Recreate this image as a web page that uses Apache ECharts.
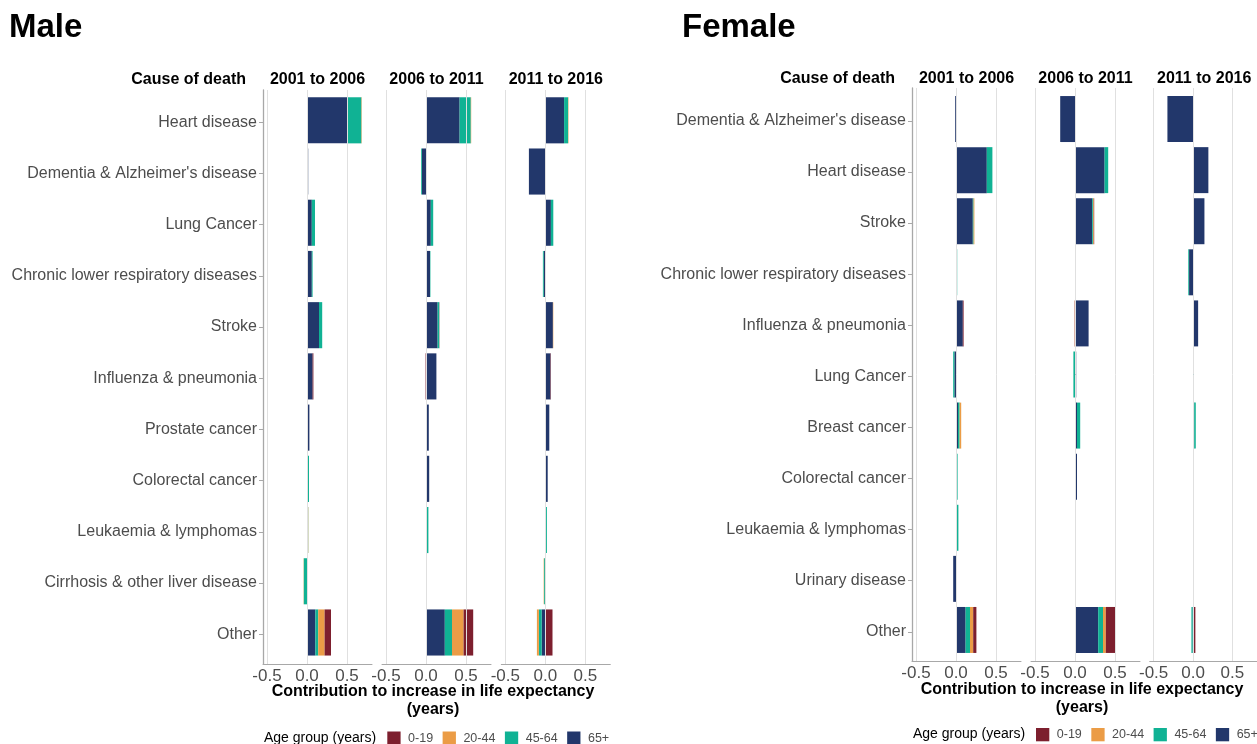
<!DOCTYPE html>
<html><head><meta charset="utf-8">
<script src="https://cdn.jsdelivr.net/npm/echarts@6/dist/echarts.min.js"></script>
<style>html,body{margin:0;padding:0;background:#fff}#c{width:1257px;height:744px}</style>
</head><body><div id="c"></div><script>
// ---------- DATA ----------
const ageGroups = ['0-19', '20-44', '45-64', '65+'];
const periods = ['2001 to 2006', '2006 to 2011', '2011 to 2016'];
const tickValues = [-0.5, 0, 0.5];

const maleCauses = ['Heart disease', "Dementia & Alzheimer's disease", 'Lung Cancer', 'Chronic lower respiratory diseases', 'Stroke', 'Influenza & pneumonia', 'Prostate cancer', 'Colorectal cancer', 'Leukaemia & lymphomas', 'Cirrhosis & other liver disease', 'Other'];
const femaleCauses = ["Dementia & Alzheimer's disease", 'Heart disease', 'Stroke', 'Chronic lower respiratory diseases', 'Influenza & pneumonia', 'Lung Cancer', 'Breast cancer', 'Colorectal cancer', 'Leukaemia & lymphomas', 'Urinary disease', 'Other'];

// Male 2001 to 2006
const male1_65  = [0.50, 0.015, 0.06, 0.06, 0.15, 0.07, 0.03, 0.01, 0.005, 0, 0.105];
const male1_45  = [0.18, 0, 0.04, 0.01, 0.04, 0, 0, 0.015, 0.01, -0.04, 0.035];
const male1_20  = [0.005, 0, 0, 0, 0, 0, 0, 0, 0.003, -0.003, 0.08];
const male1_0   = [0, 0, 0, 0, 0, 0.01, 0, 0, 0, 0, 0.08];
// Male 2006 to 2011
const male2_65  = [0.42, -0.05, 0.06, 0.05, 0.145, 0.13, 0.035, 0.04, 0.01, 0, 0.235];
const male2_45  = [0.14, -0.01, 0.03, 0.005, 0.02, 0, 0, 0, 0.02, 0.005, 0.09];
const male2_20  = [0.005, 0, 0, 0, 0, 0, 0, 0, 0, 0, 0.145];
const male2_0   = [0, 0, 0, 0, 0.003, -0.005, 0, 0, 0, 0, 0.12];
// Male 2011 to 2016
const male3_65  = [0.235, -0.205, 0.07, -0.02, 0.095, 0.065, 0.05, 0.03, 0.005, 0, -0.045];
const male3_45  = [0.05, 0, 0.03, -0.01, 0, 0, 0, 0, 0.015, -0.015, -0.035];
const male3_20  = [0.005, 0, 0, 0, 0.005, 0, 0, 0, 0, -0.005, -0.025];
const male3_0   = [0, 0, 0, 0, 0, 0.005, 0, 0, 0, 0, 0.09];

// Female 2001 to 2006
const female1_65 = [-0.01, 0.385, 0.21, 0, 0.085, -0.02, 0.025, 0.01, 0.005, -0.035, 0.12];
const female1_45 = [0, 0.07, 0.01, 0.015, 0, -0.015, 0.02, 0.01, 0.025, 0, 0.055];
const female1_20 = [0, 0, 0.01, 0, 0, 0, 0.02, 0, 0, 0, 0.04];
const female1_0  = [0, 0, 0, 0, 0.01, 0, 0, 0, 0, 0, 0.04];
// Female 2006 to 2011
const female2_65 = [-0.185, 0.37, 0.215, 0, 0.17, 0.015, 0.025, 0.025, 0, 0, 0.29];
const female2_45 = [0, 0.045, 0.01, 0.01, 0, -0.02, 0.04, 0, 0.01, 0.01, 0.06];
const female2_20 = [0, 0, 0.01, 0, -0.003, 0, 0, 0, 0, 0, 0.035];
const female2_0  = [0, 0, 0.005, 0, -0.003, 0, 0, 0, 0, 0, 0.115];
// Female 2011 to 2016
const female3_65 = [-0.325, 0.195, 0.145, -0.05, 0.065, 0.005, 0.015, 0, 0, 0, -0.005];
const female3_45 = [0, 0, 0, -0.01, 0, 0.005, 0.02, 0.005, 0.01, 0, -0.015];
const female3_20 = [0, 0, 0, 0, 0, 0, 0, 0, 0, 0, 0.005];
const female3_0  = [0, 0, 0, 0, 0, 0, 0, 0.005, 0, 0.005, 0.025];

// ---------- STYLE / LAYOUT ----------
const colors = {'0-19': '#7d1f2e', '20-44': '#eb9c46', '45-64': '#10b294', '65+': '#22376b'};
const FONT = 'Liberation Sans, Arial, sans-serif';
const XMIN = -0.55, XMAX = 0.8125, FACET_W = 109, PX_PER_UNIT = 80;

const panels = [
  {title: 'Male', titleX: 9, causes: maleCauses, zeros: [307, 426, 545.3],
   frameTop: 90, frameBottom: 664, dataTop: 94.7, dataH: 563.4, headY: 80,
   data: [[male1_0, male1_20, male1_45, male1_65], [male2_0, male2_20, male2_45, male2_65], [male3_0, male3_20, male3_45, male3_65]],
   xTitleX: 433, xTitleY: 701, legendLabelX: 264, legendX: 387.3, legendTop: 731.5},
  {title: 'Female', titleX: 682, causes: femaleCauses, zeros: [956, 1075, 1193.7],
   frameTop: 88, frameBottom: 661, dataTop: 93.5, dataH: 562, headY: 79,
   data: [[female1_0, female1_20, female1_45, female1_65], [female2_0, female2_20, female2_45, female2_65], [female3_0, female3_20, female3_45, female3_65]],
   xTitleX: 1082, xTitleY: 698.5, legendLabelX: 913, legendX: 1036, legendTop: 728}
];

const grid = [], xAxis = [], yAxis = [], series = [], title = [], graphic = [], legend = [];
const AXIS_COL = '#a8a8a8', GRID_COL = '#e0e0e0', LABEL_COL = '#4d4d4d';

panels.forEach((p, pi) => {
  title.push({text: p.title, left: p.titleX, top: 11, padding: 0,
    textStyle: {fontSize: 33, fontWeight: 'bold', color: '#000', fontFamily: FONT}});
  graphic.push({type: 'text', x: p.zeros[0] - 44 - 17, y: p.headY,
    style: {text: 'Cause of death', font: 'bold 16px ' + FONT, fill: '#000', textAlign: 'right', textVerticalAlign: 'middle'}});
  graphic.push({type: 'text', x: p.xTitleX, y: p.xTitleY,
    style: {text: 'Contribution to increase in life expectancy\n(years)', font: 'bold 16px ' + FONT, fill: '#000',
      textAlign: 'center', textVerticalAlign: 'middle', lineHeight: 18}});
  graphic.push({type: 'text', x: p.legendLabelX, y: p.legendTop + 6.5,
    style: {text: 'Age group (years)', font: '14px ' + FONT, fill: '#000', textAlign: 'left', textVerticalAlign: 'middle'}});
  legend.push({data: ageGroups, left: p.legendX, top: p.legendTop, width: 320, padding: 0, icon: 'rect',
    itemWidth: 13.3, itemHeight: 13.3, itemGap: 9.5,
    selectedMode: false, textStyle: {fontSize: 12.5, color: LABEL_COL, fontFamily: FONT, padding: [0, 0, 0, 2.5]}});

  p.zeros.forEach((z, fi) => {
    const left = z + XMIN * PX_PER_UNIT;
    graphic.push({type: 'text', x: left + FACET_W / 2, y: p.headY,
      style: {text: periods[fi], font: 'bold 16px ' + FONT, fill: '#000', textAlign: 'center', textVerticalAlign: 'middle'}});
    // frame grid (axis lines, gridlines, x labels)
    const fIdx = grid.length;
    grid.push({left: left, top: p.frameTop, width: FACET_W, height: p.frameBottom - p.frameTop, containLabel: false});
    xAxis.push({gridIndex: fIdx, type: 'value', min: XMIN, max: XMAX,
      axisLine: {show: true, onZero: false, lineStyle: {color: AXIS_COL, width: 1}},
      axisTick: {show: false, customValues: tickValues},
      axisLabel: {show: true, customValues: tickValues, formatter: v => v.toFixed(1), fontSize: 17, color: LABEL_COL, fontFamily: FONT, margin: 4},
      splitLine: {show: false}});
    yAxis.push({gridIndex: fIdx, type: 'value', min: 0, max: 1,
      axisLine: {show: fi === 0, onZero: false, lineStyle: {color: AXIS_COL, width: 1.3}},
      axisTick: {show: false}, axisLabel: {show: false}, splitLine: {show: false}});
    // gridlines drawn at the tick values
    series.push({type: 'line', xAxisIndex: fIdx, yAxisIndex: fIdx, data: [], silent: true, z: 0,
      markLine: {silent: true, symbol: 'none', label: {show: false},
        lineStyle: {color: GRID_COL, width: 1, type: 'solid'},
        data: tickValues.map(v => ({xAxis: v}))}});
    // category labels + ticks (first facet only), set slightly below bar centres as in the original
    if (fi === 0) {
      const lIdx = grid.length;
      grid.push({left: left, top: p.dataTop + 1.8, width: FACET_W, height: p.dataH, containLabel: false});
      xAxis.push({gridIndex: lIdx, type: 'value', min: XMIN, max: XMAX, show: false, splitLine: {show: false}});
      yAxis.push({gridIndex: lIdx, type: 'category', inverse: true, data: p.causes,
        axisLine: {show: false, onZero: false},
        axisTick: {show: true, length: 4, alignWithLabel: true, lineStyle: {color: AXIS_COL}},
        axisLabel: {show: true, fontSize: 16, color: LABEL_COL, fontFamily: FONT, margin: 6},
        splitLine: {show: false}});
    }
    // data grid
    const dIdx = grid.length;
    grid.push({left: left, top: p.dataTop, width: FACET_W, height: p.dataH, containLabel: false});
    xAxis.push({gridIndex: dIdx, type: 'value', min: XMIN, max: XMAX, show: false, splitLine: {show: false}});
    yAxis.push({gridIndex: dIdx, type: 'category', inverse: true, data: p.causes,
      axisLine: {show: false, onZero: false}, axisTick: {show: false}, axisLabel: {show: false},
      splitLine: {show: false}});
    // stack order from zero outward: 65+, 45-64, 20-44, 0-19
    [3, 2, 1, 0].forEach(ai => {
      series.push({type: 'bar', name: ageGroups[ai], xAxisIndex: dIdx, yAxisIndex: dIdx,
        stack: 'p' + pi + 'f' + fi, barCategoryGap: '10%', data: p.data[fi][ai],
        itemStyle: {color: colors[ageGroups[ai]]}, emphasis: {disabled: true}});
    });
  });
});

const chart = echarts.init(document.getElementById('c'), null, {renderer: 'canvas'});
chart.setOption({animation: false, backgroundColor: '#fff', textStyle: {fontFamily: FONT},
  color: ageGroups.map(a => colors[a]),
  title, legend, grid, xAxis, yAxis, series, graphic});
</script></body></html>
